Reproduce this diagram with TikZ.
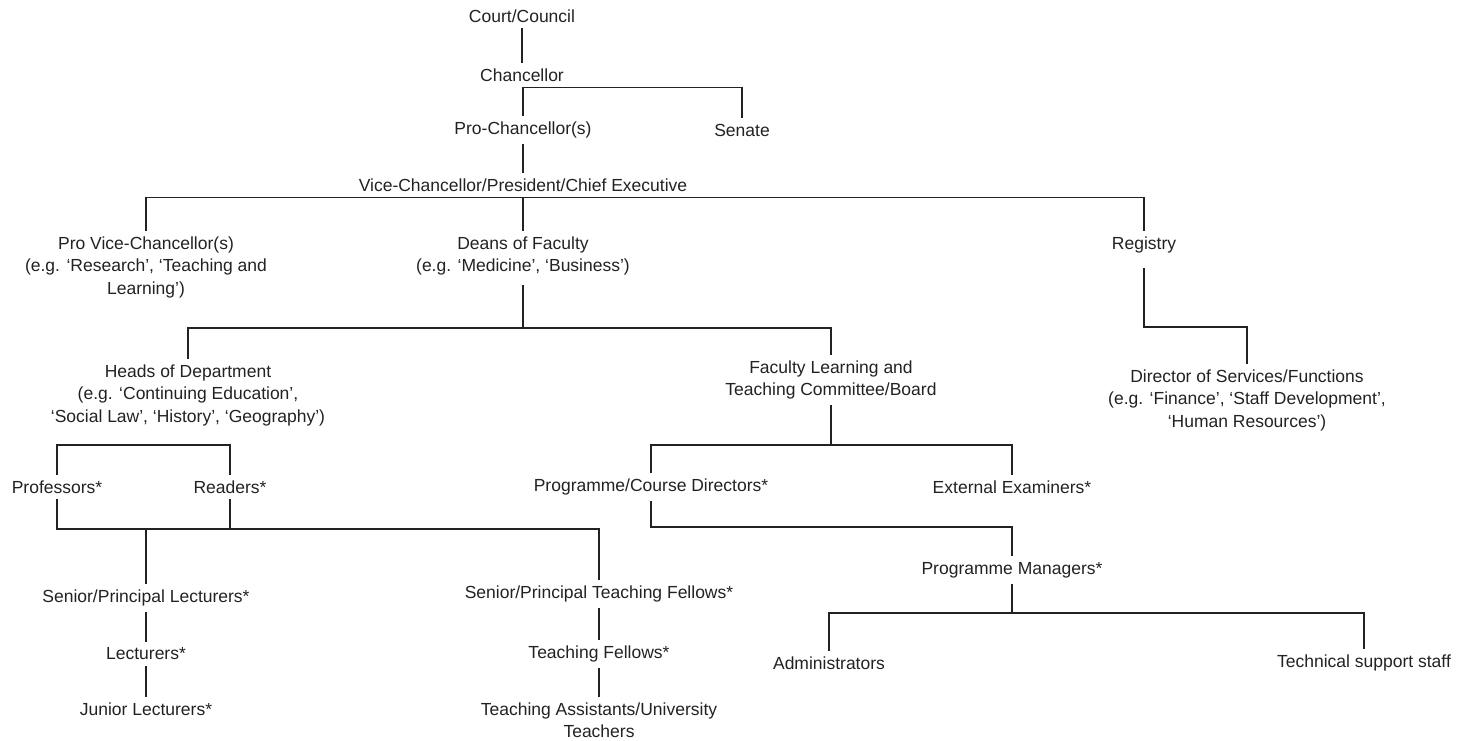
\documentclass[tikz,border=0pt]{standalone}
\usepackage{fontspec}
\setmainfont{Liberation Sans}
\usetikzlibrary{positioning, calc}
\definecolor{inkgrey}{HTML}{222222}

\begin{document}
\begin{tikzpicture}[
    x=1pt, y={(0pt,-1pt)},
    post/.style={
        font=\fontsize{17.5}{22.5}\selectfont,
        text=inkgrey,
        align=center,
        inner xsep=2pt,
        inner ysep=5.5pt
    },
    link/.style={
        draw=inkgrey,
        line width=1.2pt
    }
]

% --- CANVAS ---
\useasboundingbox (0,0) rectangle (1463,740);

% --- GOVERNANCE ---
\node[post] (court)    at (522,16)  {Court/Council};
\node[post] (chan)     at (522,75)  {Chancellor};
\node[post] (prochan)  at (523,130) {Pro-Chancellor(s)};
\node[post] (senate)   at (742,130) {Senate};
\node[post] (vc)       at (523,185) {Vice-Chancellor/President/Chief Executive};

% --- SENIOR OFFICERS ---
\node[post] (provc)    at (146,267) {Pro Vice-Chancellor(s)\\(e.g. ‘Research’, ‘Teaching and\\Learning’)};
\node[post] (deans)    at (523,256) {Deans of Faculty\\(e.g. ‘Medicine’, ‘Business’)};
\node[post] (registry) at (1144,245) {Registry};
\node[post] (director) at (1247,400) {Director of Services/Functions\\(e.g. ‘Finance’, ‘Staff Development’,\\‘Human Resources’)};

% --- FACULTY ---
\node[post] (heads)    at (188,395) {Heads of Department\\(e.g. ‘Continuing Education’,\\‘Social Law’, ‘History’, ‘Geography’)};
\node[post] (faculty)  at (831,380) {Faculty Learning and\\Teaching Committee/Board};

% --- ACADEMIC STAFF ---
\node[post] (prof)     at (57,487)  {Professors*};
\node[post] (readers)  at (230,487) {Readers*};
\node[post] (spl)      at (146,598) {Senior/Principal Lecturers*};
\node[post] (lect)     at (146,654) {Lecturers*};
\node[post] (jl)       at (146,709) {Junior Lecturers*};
\node[post] (sptf)     at (599,594) {Senior/Principal Teaching Fellows*};
\node[post] (tf)       at (599,654) {Teaching Fellows*};
\node[post] (ta)       at (599,720) {Teaching Assistants/University\\Teachers};

% --- PROGRAMMES ---
\node[post] (pcd)      at (651,487)  {Programme/Course Directors*};
\node[post] (ext)      at (1012,487) {External Examiners*};
\node[post] (pm)       at (1012,570) {Programme Managers*};
\node[post] (admin)    at (829,663)  {Administrators};
\node[post] (tech)     at (1364,663) {Technical support staff};

% --- BAR LEVELS ---
\coordinate (regbar)  at (1144,327);
\coordinate (deanbar) at (523,328);
\coordinate (facbar)  at (831,445);
\coordinate (profbar) at (57,445);
\coordinate (lowbar)  at (146,529);
\coordinate (pcdbar)  at (651,527);
\coordinate (pmbar)   at (1012,613);

% --- CONNECTORS ---
\begin{scope}[link]
    \draw (court) -- (chan);
    \draw (prochan.north) |- (chan.south) -| (senate.north);
    \draw (prochan) -- (vc);
    \draw (provc.north) |- (vc.south) -| (registry.north);
    \draw (vc) -- (deans);
    \draw[shorten <=9pt] (registry.south) |- (regbar) -| (director.north);
    \draw[shorten <=4pt] (deans.south) -- (deanbar);
    \draw (heads.north) |- (deanbar) -| (faculty.north);
    \draw (faculty.south) -- (facbar);
    \draw (pcd.north) |- (facbar) -| (ext.north);
    \draw (prof.north) |- (profbar) -| (readers.north);
    \draw (prof.south) |- (lowbar) -| (sptf.north);
    \draw (readers.south) -- (readers.south |- lowbar);
    \draw (lowbar) -- (spl.north);
    \draw (spl) -- (lect);
    \draw (lect) -- (jl);
    \draw (sptf) -- (tf);
    \draw (tf) -- (ta);
    \draw (pcd.south) -- (pcdbar) -| (pm.north);
    \draw (pm.south) -- (pmbar);
    \draw (admin.north) |- (pmbar) -| (tech.north);
\end{scope}

\end{tikzpicture}
\end{document}
